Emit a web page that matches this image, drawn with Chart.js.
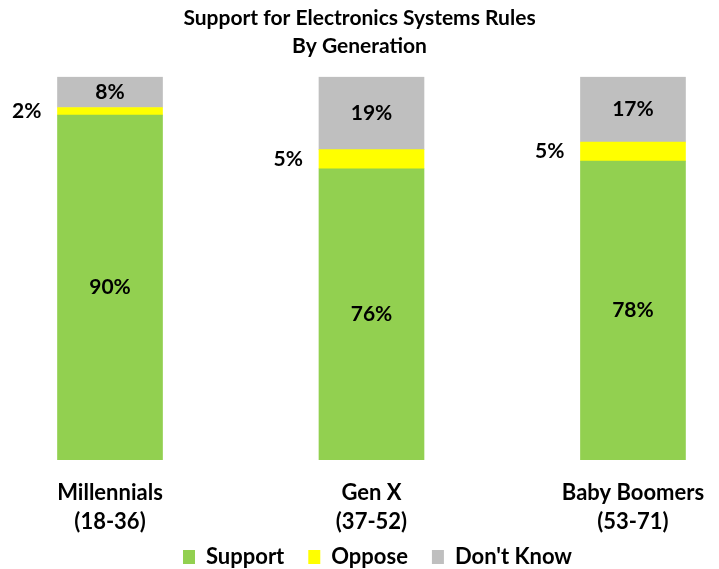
<!DOCTYPE html>
<html lang="en">
<head>
  <meta charset="UTF-8" />
  <title>Support for Electronics Systems Rules</title>
  <script src="https://cdn.jsdelivr.net/npm/chart.js"></script>
  <style>
    body { margin: 0; background: #fff; }
    #wrap { width: 719px; height: 569px; position: relative; }
  </style>
</head>
<body>
  <div id="wrap"><canvas id="chart"></canvas></div>
  <script>
    // data
    const generations = ["Millennials", "Gen X", "Baby Boomers"];
    const ageRanges = ["(18-36)", "(37-52)", "(53-71)"];
    const support = [90, 76, 78];
    const oppose = [2, 5, 5];
    const dontKnow = [8, 19, 17];

    const FONT = "Lato, 'Open Sans', sans-serif";

    const toPoints = arr => arr.map((v, i) => ({ x: i, y: v }));

    // value labels drawn from the bar elements
    const valueLabels = {
      id: "valueLabels",
      afterDatasetsDraw(chart) {
        const ctx = chart.ctx;
        ctx.save();
        ctx.font = "bold 21px " + FONT;
        ctx.fillStyle = "#000";
        ctx.textBaseline = "middle";
        chart.data.datasets.forEach((ds, d) => {
          chart.getDatasetMeta(d).data.forEach((bar, i) => {
            const midY = (bar.y + bar.base) / 2;
            const txt = ds.data[i].y + "%";
            if (ds.label === "Oppose") {
              ctx.textAlign = "right";
              ctx.fillText(txt, bar.x - bar.width / 2 - 16, midY);
            } else {
              ctx.textAlign = "center";
              ctx.fillText(txt, bar.x, midY);
            }
          });
        });
        ctx.restore();
      }
    };

    // pull the legend closer to the axis labels and a bit to the right
    const LEGEND_TRIM = 24;
    const LEGEND_SHIFT = 18;
    const tightLegend = {
      id: "tightLegend",
      beforeUpdate(chart) {
        const lg = chart.legend;
        if (!lg || lg._trimmed) return;
        lg._trimmed = true;
        const fit = lg.fit, draw = lg.draw;
        lg.fit = function () { fit.call(this); this.height -= LEGEND_TRIM; };
        lg.draw = function () {
          this.top -= LEGEND_TRIM;
          this.left += LEGEND_SHIFT;
          this.right += LEGEND_SHIFT;
          draw.call(this);
          this.top += LEGEND_TRIM;
          this.left -= LEGEND_SHIFT;
          this.right -= LEGEND_SHIFT;
        };
      }
    };

    new Chart(document.getElementById("chart"), {
      type: "bar",
      data: {
        datasets: [
          { label: "Support", data: toPoints(support), backgroundColor: "#92D050" },
          { label: "Oppose", data: toPoints(oppose), backgroundColor: "#FFFF00" },
          { label: "Don't Know", data: toPoints(dontKnow), backgroundColor: "#BFBFBF" }
        ]
      },
      options: {
        responsive: true,
        maintainAspectRatio: false,
        animation: false,
        barThickness: 105,
        layout: { padding: { top: 4, bottom: -9 } },
        scales: {
          x: {
            type: "linear",
            stacked: true,
            offset: false,
            min: -0.4207,
            max: 2.329,
            grid: { display: false, offset: false },
            border: { display: false },
            afterBuildTicks: axis => { axis.ticks = [0, 1, 2].map(v => ({ value: v })); },
            ticks: {
              color: "#000",
              padding: 10,
              maxRotation: 0,
              autoSkip: false,
              font: { family: FONT, size: 22, weight: "bold", lineHeight: 1.32 },
              callback: v => [generations[v], ageRanges[v]]
            }
          },
          y: {
            stacked: true,
            display: false,
            min: 0,
            max: 100
          }
        },
        plugins: {
          title: {
            display: true,
            text: ["Support for Electronics Systems Rules", "By Generation"],
            color: "#000",
            font: { family: FONT, size: 21, weight: "bold", lineHeight: 1.33 },
            padding: { top: 0, bottom: 17 }
          },
          legend: {
            position: "bottom",
            labels: {
              color: "#000",
              boxWidth: 12,
              boxHeight: 14,
              padding: 24,
              font: { family: FONT, size: 22, weight: "bold" }
            }
          },
          tooltip: { enabled: false }
        }
      },
      plugins: [valueLabels, tightLegend]
    });
  </script>
</body>
</html>
